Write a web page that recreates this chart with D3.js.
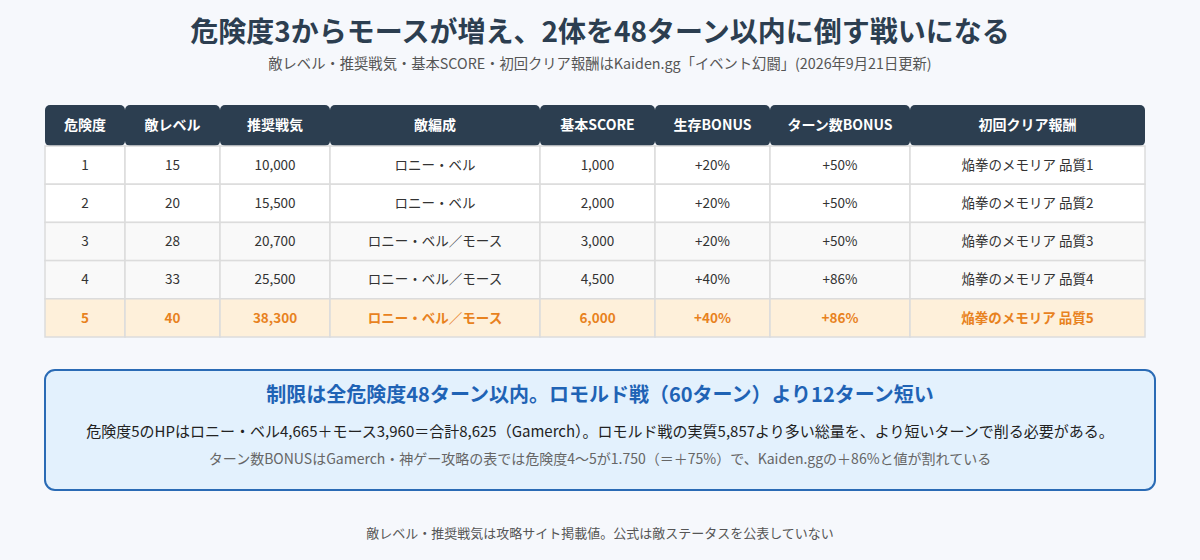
<!DOCTYPE html>
<html>
<head>
<meta charset="utf-8">
<script src="https://cdn.jsdelivr.net/npm/d3@7"></script>
<style>
  body { margin: 0; background: #f6f8fc; }
  svg { display: block; font-family: "Noto Sans CJK JP", "Noto Sans", sans-serif; }
</style>
</head>
<body>
<div id="chart"></div>
<script>
// table data
var headers = ["危険度", "敵レベル", "推奨戦気", "敵編成", "基本SCORE", "生存BONUS", "ターン数BONUS", "初回クリア報酬"]
var colWidths = [80, 95, 110, 210, 115, 115, 140, 235]
var danger = ["1", "2", "3", "4", "5"]
var enemyLevel = ["15", "20", "28", "33", "40"]
var power = ["10,000", "15,500", "20,700", "25,500", "38,300"]
var formation = ["ロニー・ベル", "ロニー・ベル", "ロニー・ベル／モース", "ロニー・ベル／モース", "ロニー・ベル／モース"]
var baseScore = ["1,000", "2,000", "3,000", "4,500", "6,000"]
var survivalBonus = ["+20%", "+20%", "+20%", "+40%", "+40%"]
var turnBonus = ["+50%", "+50%", "+50%", "+86%", "+86%"]
var reward = ["焔拳のメモリア 品質1", "焔拳のメモリア 品質2", "焔拳のメモリア 品質3", "焔拳のメモリア 品質4", "焔拳のメモリア 品質5"]
var highlightRow = 4

var columns = [danger, enemyLevel, power, formation, baseScore, survivalBonus, turnBonus, reward]

var W = 1200, H = 560
var svg = d3.select("#chart").append("svg").attr("width", W).attr("height", H)

svg.append("rect").attr("width", W).attr("height", H).attr("fill", "#f6f8fc")

// title + subtitle
svg.append("text")
    .attr("x", 600).attr("y", 42)
    .attr("text-anchor", "middle")
    .attr("font-size", 28).attr("font-weight", "bold")
    .attr("fill", "#2c3e50")
    .text("危険度3からモースが増え、2体を48ターン以内に倒す戦いになる")

svg.append("text")
    .attr("x", 600).attr("y", 69)
    .attr("text-anchor", "middle")
    .attr("font-size", 14.3)
    .attr("fill", "#555")
    .text("敵レベル・推奨戦気・基本SCORE・初回クリア報酬はKaiden.gg「イベント幻闘」(2026年9月21日更新)")

// column edges from cumulative widths
var edges = [0]
colWidths.forEach(function(w, i) { edges.push(edges[i] + w) })
var x = d3.scaleLinear().domain([0, d3.sum(colWidths)]).range([45, 1145])

var headTop = 105, headH = 41
var y = d3.scaleBand().domain(d3.range(danger.length)).range([146, 337])

// header cells (each one its own rounded block)
var head = svg.append("g")
head.selectAll("rect").data(headers).enter().append("rect")
    .attr("x", function(d, i) { return x(edges[i]) })
    .attr("y", headTop)
    .attr("width", function(d, i) { return x(edges[i + 1]) - x(edges[i]) })
    .attr("height", headH)
    .attr("rx", 5)
    .attr("fill", "#2c3e50")
head.selectAll("text").data(headers).enter().append("text")
    .attr("x", function(d, i) { return (x(edges[i]) + x(edges[i + 1])) / 2 })
    .attr("y", headTop + headH / 2)
    .attr("dy", "0.35em")
    .attr("text-anchor", "middle")
    .attr("font-size", 14).attr("font-weight", "bold")
    .attr("fill", "#fff")
    .text(function(d) { return d })

// body rows
var rows = svg.append("g").selectAll("g").data(d3.range(danger.length)).enter().append("g")

rows.each(function(r) {
    var g = d3.select(this)
    var hl = r === highlightRow
    var bg = hl ? "#fef0da" : (r >= 2 ? "#f9f9f9" : "#fff")
    columns.forEach(function(col, c) {
        g.append("rect")
            .attr("x", x(edges[c]))
            .attr("y", y(r))
            .attr("width", x(edges[c + 1]) - x(edges[c]))
            .attr("height", y.bandwidth())
            .attr("fill", bg)
            .attr("stroke", "#dcdcdc")
            .attr("stroke-width", 1.5)
        g.append("text")
            .attr("x", (x(edges[c]) + x(edges[c + 1])) / 2)
            .attr("y", y(r) + y.bandwidth() / 2)
            .attr("dy", "0.35em")
            .attr("text-anchor", "middle")
            .attr("font-size", 13.5)
            .attr("font-weight", hl ? "bold" : "normal")
            .attr("fill", hl ? "#e8821e" : "#333")
            .text(col[r])
    })
})

// note box
var note = svg.append("g")
note.append("rect")
    .attr("x", 45).attr("y", 370)
    .attr("width", 1110).attr("height", 120)
    .attr("rx", 10)
    .attr("fill", "#e3f1fd")
    .attr("stroke", "#2a6bb5").attr("stroke-width", 2)
note.append("text")
    .attr("x", 600).attr("y", 402)
    .attr("text-anchor", "middle")
    .attr("font-size", 20).attr("font-weight", "bold")
    .attr("fill", "#1f63b5")
    .text("制限は全危険度48ターン以内。ロモルド戦（60ターン）より12ターン短い")
note.append("text")
    .attr("x", 600).attr("y", 437)
    .attr("text-anchor", "middle")
    .attr("font-size", 15)
    .attr("fill", "#222")
    .text("危険度5のHPはロニー・ベル4,665＋モース3,960＝合計8,625（Gamerch）。ロモルド戦の実質5,857より多い総量を、より短いターンで削る必要がある。")
note.append("text")
    .attr("x", 600).attr("y", 464)
    .attr("text-anchor", "middle")
    .attr("font-size", 14)
    .attr("fill", "#666")
    .text("ターン数BONUSはGamerch・神ゲー攻略の表では危険度4〜5が1.750（＝＋75%）で、Kaiden.ggの＋86%と値が割れている")

// footer
svg.append("text")
    .attr("x", 600).attr("y", 538)
    .attr("text-anchor", "middle")
    .attr("font-size", 13)
    .attr("fill", "#555")
    .text("敵レベル・推奨戦気は攻略サイト掲載値。公式は敵ステータスを公表していない")
</script>
</body>
</html>
